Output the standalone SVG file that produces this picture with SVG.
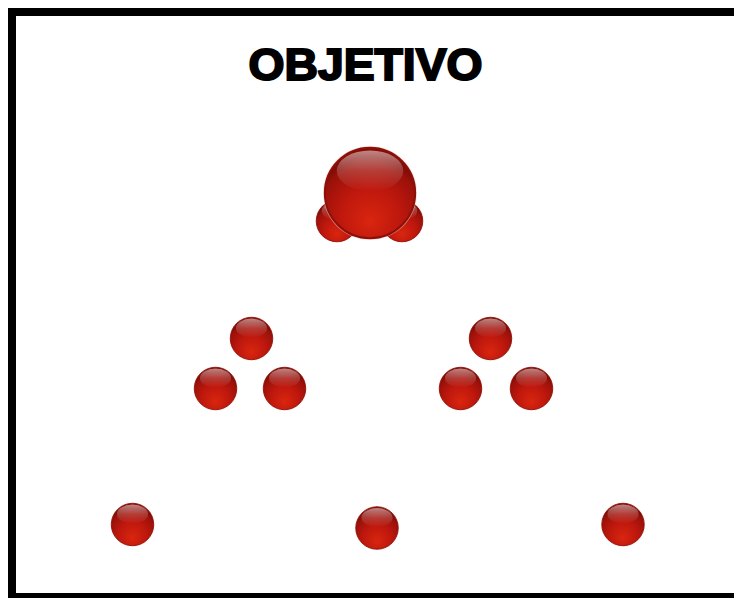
<svg xmlns="http://www.w3.org/2000/svg" width="734" height="598" viewBox="0 0 734 598">
<defs>
<radialGradient id="body" cx="50%" cy="72%" r="62%" fx="50%" fy="82%">
<stop offset="0" stop-color="#d9260f"/>
<stop offset="0.55" stop-color="#bd170d"/>
<stop offset="0.9" stop-color="#9a110a"/>
<stop offset="1" stop-color="#820c07"/>
</radialGradient>
<linearGradient id="hl" x1="0" y1="0" x2="0" y2="1">
<stop offset="0" stop-color="#ffffff" stop-opacity="0.5"/>
<stop offset="0.5" stop-color="#ffffff" stop-opacity="0.18"/>
<stop offset="1" stop-color="#ffffff" stop-opacity="0"/>
</linearGradient>
<symbol id="ball" viewBox="-52 -52 104 104">
<circle r="51" fill="#f3c9c0" opacity="0.5"/>
<circle r="49" fill="url(#body)" stroke="#8c0f08" stroke-width="2"/>
<ellipse cx="0" cy="-24" rx="36" ry="22" fill="url(#hl)"/>
</symbol>
</defs>
<style>
.title{font-family:"Liberation Sans",Arial,sans-serif;font-weight:bold;font-size:44px;fill:#000;stroke:#000;stroke-width:2px}
</style>
<rect width="734" height="598" fill="#fff"/>
<g id="frame" fill="#000">
<rect x="8" y="8" width="726" height="8"/>
<rect x="8" y="8" width="8" height="590"/>
<rect x="8" y="593" width="726" height="5"/>
</g>
<text class="title" x="365.5" y="80" text-anchor="middle" textLength="234" lengthAdjust="spacingAndGlyphs">OBJETIVO</text>
<g id="goal">
<use href="#ball" x="315" y="199" width="44" height="44"/>
<use href="#ball" x="380" y="199" width="44" height="44"/>
<use href="#ball" x="322" y="145" width="96" height="96"/>
</g>
<g id="group-left">
<use href="#ball" x="229" y="316" width="45" height="45"/>
<use href="#ball" x="193" y="366" width="45" height="45"/>
<use href="#ball" x="262" y="366" width="45" height="45"/>
</g>
<g id="group-right">
<use href="#ball" x="468" y="316" width="45" height="45"/>
<use href="#ball" x="438" y="366" width="45" height="45"/>
<use href="#ball" x="509" y="366" width="45" height="45"/>
</g>
<g id="bottom-row">
<use href="#ball" x="110" y="502" width="45" height="45"/>
<use href="#ball" x="354.5" y="505.5" width="45" height="45"/>
<use href="#ball" x="600.5" y="502" width="45" height="45"/>
</g>
<g id="connectors"/>
</svg>
